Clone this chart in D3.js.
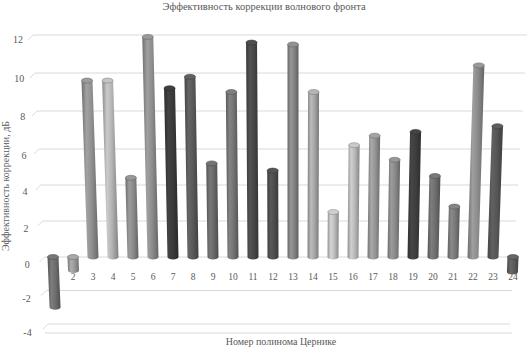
<!DOCTYPE html>
<html>
<head>
<meta charset="utf-8">
<script src="https://cdn.jsdelivr.net/npm/d3@7"></script>
<style>
  body { margin: 0; background: #fff; }
  text { font-family: "Liberation Serif", "DejaVu Serif", serif; fill: #595959; }
</style>
</head>
<body>
<svg id="vis" width="532" height="348"></svg>
<script>
// data
let categories = ["1","2","3","4","5","6","7","8","9","10","11","12","13","14","15","16","17","18","19","20","21","22","23","24"];
let values = [-3.0, -0.8, 9.6, 9.6, 4.4, 11.9, 9.2, 9.8, 5.2, 9.0, 11.6, 4.8, 11.5, 9.0, 2.5, 6.2, 6.7, 5.4, 6.9, 4.5, 2.8, 10.4, 7.2, -0.9];
let barColors = ["#6e6e6e","#9a9a9a","#8f8f8f","#b3b3b3","#8a8a8a","#8d8d8d","#3a3a3a","#595959",
                 "#6a6a6a","#747474","#484848","#4e4e4e","#858585","#a6a6a6","#bdbdbd","#b8b8b8",
                 "#959595","#8a8a8a","#3e3e3e","#6e6e6e","#7a7a7a","#8c8c8c","#565656","#5c5c5c"];
let yTicks = [-4, -2, 0, 2, 4, 6, 8, 10, 12];
let title = "Эффективность коррекции волнового фронта";
let yTitle = "Эффективность коррекции, дБ";
let xTitle = "Номер полинома Цернике";

let svg = d3.select("#vis");

// perspective squeezes the wall a little toward the bottom
let y = d3.scaleLinear()
    .domain([-4, 0, 6, 12])
    .range([324, 257, 149, 35]);

let x = d3.scaleBand()
    .domain(categories)
    .range([43, 523]);

let pivot = 293;      // vanishing x
let lean = 0.00017;   // how much bars fan out

function leanX(x0, yy) {
    return x0 + (x0 - pivot) * (y(0) - yy) * lean;
}

// wall edges
function leftEnd(yy) { return 33 + (yy - 35) * (48 - 33) / (324 - 35); }
function rightEnd(yy) { return 527 - (yy - 35) * (527 - 510) / (324 - 35); }

let grid = svg.append("g");
yTicks.forEach(t => {
    let yy = y(t);
    grid.append("line")
        .attr("x1", leftEnd(yy)).attr("x2", rightEnd(yy))
        .attr("y1", yy).attr("y2", yy)
        .attr("stroke", "#d9d9d9").attr("stroke-width", 1);
    grid.append("line")
        .attr("x1", leftEnd(yy) - 5).attr("y1", yy + 5)
        .attr("x2", leftEnd(yy)).attr("y2", yy)
        .attr("stroke", "#d9d9d9").attr("stroke-width", 1);
    // labels sit on the front edge, a bit below the wall line
    svg.append("text")
        .attr("x", 23 + (yy - 35) * 0.03)
        .attr("y", yy + 8 + (yy - 35) * 0.015)
        .attr("text-anchor", "end")
        .attr("font-size", 10)
        .text(t);
});
// front edge of the floor
grid.append("line")
    .attr("x1", 45).attr("x2", 512)
    .attr("y1", 333).attr("y2", 333)
    .attr("stroke", "#d9d9d9");

// category labels (drawn first so bar 1 hides its label, as in the picture)
svg.append("g").selectAll("text")
    .data(categories)
    .enter().append("text")
    .attr("x", d => x(d) + x.bandwidth() / 2)
    .attr("y", 280)
    .attr("text-anchor", "middle")
    .attr("font-size", 9.5)
    .text(d => d);

let defs = svg.append("defs");
barColors.forEach((c, i) => {
    let g = defs.append("linearGradient")
        .attr("id", "cyl" + i)
        .attr("x1", "0%").attr("x2", "100%")
        .attr("y1", "0%").attr("y2", "0%");
    let base = d3.color(c);
    g.append("stop").attr("offset", "0%").attr("stop-color", base.darker(0.7));
    g.append("stop").attr("offset", "30%").attr("stop-color", base.brighter(0.35));
    g.append("stop").attr("offset", "60%").attr("stop-color", base);
    g.append("stop").attr("offset", "100%").attr("stop-color", base.darker(0.9));
});

let w = 11, ry = 2.5;
let bars = svg.append("g").selectAll("g")
    .data(values.map((v, i) => ({ v: v, i: i, cat: categories[i] })))
    .enter().append("g");

bars.append("path")
    .attr("d", d => {
        let x0 = x(d.cat) + x.bandwidth() / 2;
        let yt = y(Math.max(d.v, 0));
        let yb = y(Math.min(d.v, 0));
        let xt = leanX(x0, yt), xb = leanX(x0, yb);
        return `M${xb - w / 2},${yb} L${xt - w / 2},${yt} L${xt + w / 2},${yt} L${xb + w / 2},${yb}` +
               ` A${w / 2},${ry} 0 0 1 ${xb - w / 2},${yb} Z`;
    })
    .attr("fill", d => `url(#cyl${d.i})`);

bars.append("ellipse")
    .attr("cx", d => leanX(x(d.cat) + x.bandwidth() / 2, y(Math.max(d.v, 0))))
    .attr("cy", d => y(Math.max(d.v, 0)))
    .attr("rx", w / 2)
    .attr("ry", ry)
    .attr("fill", d => d3.color(barColors[d.i]).brighter(0.25))
    .attr("stroke", d => d3.color(barColors[d.i]).darker(0.8))
    .attr("stroke-width", 0.6);

svg.append("text")
    .attr("x", 264).attr("y", 10)
    .attr("text-anchor", "middle")
    .attr("font-size", 10.5)
    .text(title);

svg.append("text")
    .attr("transform", "translate(9,186) rotate(-90)")
    .attr("text-anchor", "middle")
    .attr("font-size", 10)
    .text(yTitle);

svg.append("text")
    .attr("x", 281).attr("y", 345)
    .attr("text-anchor", "middle")
    .attr("font-size", 10)
    .text(xTitle);
</script>
</body>
</html>
